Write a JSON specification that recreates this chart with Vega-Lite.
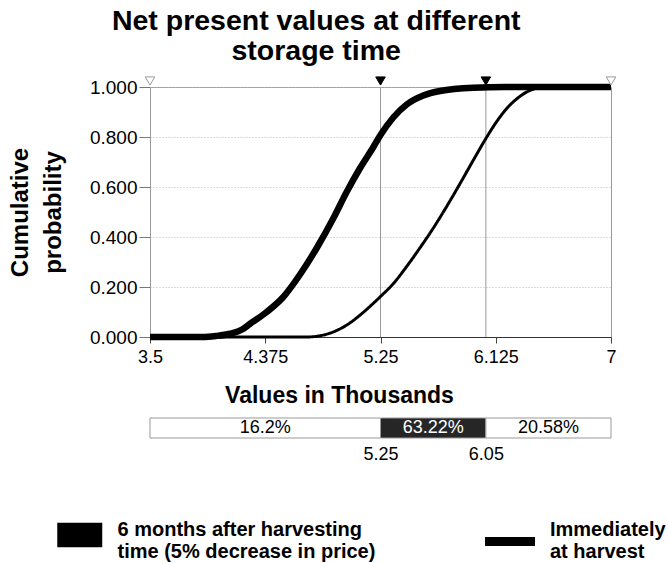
{
  "$schema": "https://vega.github.io/schema/vega-lite/v6.json",
  "background": "white",
  "padding": {"left": 7, "top": 7, "right": 5, "bottom": 0},
  "config": {"font": "Liberation Sans", "view": {"stroke": null}},
  "title": {
    "text": ["Net present values at different", "storage time"],
    "fontSize": 28.5, "fontWeight": "bold", "font": "Liberation Sans",
    "lineHeight": 30, "anchor": "middle", "color": "black", "offset": 8, "dx": -21
  },
  "spacing": 9,
  "vconcat": [
    {
      "width": 461,
      "height": 250,
      "view": {"stroke": "#999"},
      "layer": [
        {
          "data": {"values": [{"v": 5.25}, {"v": 6.05}]},
          "mark": {"type": "rule", "color": "#999", "strokeWidth": 1},
          "encoding": {
            "x": {"field": "v", "type": "quantitative", "title": "Values in Thousands"}
          }
        },
        {
          "data": {
            "values": [
              {"value": 3.5, "prob": 0},
              {"value": 3.9, "prob": 0},
              {"value": 4.0, "prob": 0.004},
              {"value": 4.107, "prob": 0.013},
              {"value": 4.2, "prob": 0.03},
              {"value": 4.26, "prob": 0.053},
              {"value": 4.386, "prob": 0.1},
              {"value": 4.512, "prob": 0.16},
              {"value": 4.639, "prob": 0.25},
              {"value": 4.765, "prob": 0.355},
              {"value": 4.892, "prob": 0.475},
              {"value": 4.993, "prob": 0.58},
              {"value": 5.094, "prob": 0.675},
              {"value": 5.196, "prob": 0.76},
              {"value": 5.25, "prob": 0.808},
              {"value": 5.347, "prob": 0.878},
              {"value": 5.449, "prob": 0.93},
              {"value": 5.575, "prob": 0.966},
              {"value": 5.702, "prob": 0.984},
              {"value": 5.955, "prob": 0.997},
              {"value": 6.2, "prob": 1},
              {"value": 7, "prob": 1}
            ]
          },
          "mark": {"type": "line", "interpolate": "monotone", "strokeWidth": 6.5, "strokeCap": "butt"},
          "encoding": {
            "x": {
              "field": "value", "type": "quantitative",
              "scale": {"domain": [3.5, 7], "nice": false, "zero": false},
              "axis": {
                "values": [3.5, 4.375, 5.25, 6.125, 7], "format": ".4~f",
                "labelFlush": false, "labelFontSize": 18, "labelColor": "black",
                "tickSize": 6, "tickColor": "#444", "domainColor": "#333",
                "grid": false, "labelPadding": 5,
                "title": "Values in Thousands", "titleFontSize": 23, "titleFontWeight": "bold",
                "titlePadding": 18, "titleX": 189, "titleColor": "black"
              }
            },
            "y": {
              "field": "prob", "type": "quantitative",
              "scale": {"domain": [0, 1], "nice": false},
              "axis": {
                "values": [0, 0.2, 0.4, 0.6, 0.8, 1], "format": ".3f",
                "labelFlush": false, "labelFontSize": 19, "labelColor": "black",
                "labelPadding": 2, "tickSize": 11, "tickColor": "#777",
                "domainColor": "#999", "gridColor": "#bbb", "gridDash": [1, 2],
                "title": ["Cumulative", "probability"], "titleFontSize": 24,
                "titleFontWeight": "bold", "titleLineHeight": 33, "titlePadding": 24,
                "titleColor": "black"
              }
            },
            "color": {
              "datum": "6 months after harvesting|time (5% decrease in price)", "type": "nominal",
              "scale": {"range": ["black"]},
              "legend": {
                "orient": "none", "legendX": -96.25, "legendY": 417, "title": null,
                "symbolType": "M-1,-0.178H1M-1,0.022H1M-1,0.222H1M-1,0.422H1M-1,0.622H1",
                "symbolSize": 2025, "symbolStrokeWidth": 6.5, "symbolStrokeColor": "black",
                "labelFontSize": 20, "labelFontWeight": "bold", "labelColor": "black",
                "labelLimit": 400, "labelOffset": 11.75,
                "labelExpr": "split(datum.label, '|')"
              }
            }
          }
        },
        {
          "data": {
            "values": [
              {"value": 3.5, "prob": 0},
              {"value": 4.69, "prob": 0},
              {"value": 4.8, "prob": 0.006},
              {"value": 4.9, "prob": 0.022},
              {"value": 5.0, "prob": 0.05},
              {"value": 5.1, "prob": 0.09},
              {"value": 5.196, "prob": 0.135},
              {"value": 5.25, "prob": 0.162},
              {"value": 5.35, "prob": 0.215},
              {"value": 5.45, "prob": 0.283},
              {"value": 5.55, "prob": 0.357},
              {"value": 5.65, "prob": 0.435},
              {"value": 5.75, "prob": 0.52},
              {"value": 5.85, "prob": 0.61},
              {"value": 5.95, "prob": 0.703},
              {"value": 6.05, "prob": 0.794},
              {"value": 6.13, "prob": 0.86},
              {"value": 6.21, "prob": 0.915},
              {"value": 6.29, "prob": 0.955},
              {"value": 6.36, "prob": 0.98},
              {"value": 6.44, "prob": 0.996},
              {"value": 6.5, "prob": 1},
              {"value": 7, "prob": 1}
            ]
          },
          "mark": {"type": "line", "interpolate": "monotone", "color": "black", "strokeWidth": 3, "strokeCap": "butt"},
          "encoding": {
            "x": {"field": "value", "type": "quantitative"},
            "y": {"field": "prob", "type": "quantitative"},
            "strokeDash": {
              "datum": "Immediately|at harvest", "type": "nominal",
              "scale": {"range": [[1, 0]]},
              "legend": {
                "orient": "none", "legendX": 333.5, "legendY": 416, "title": null,
                "symbolType": "M-1,0.36H1M-1,0.48H1M-1,0.6H1",
                "symbolSize": 2500, "symbolStrokeWidth": 3, "symbolStrokeColor": "black",
                "labelFontSize": 20, "labelFontWeight": "bold", "labelColor": "black",
                "labelLimit": 400, "labelOffset": 13.5,
                "labelExpr": "split(datum.label, '|')"
              }
            }
          }
        },
        {
          "data": {
            "values": [
              {"v": 3.5, "kind": "bound"},
              {"v": 5.25, "kind": "range"},
              {"v": 6.05, "kind": "range"},
              {"v": 7, "kind": "bound"}
            ]
          },
          "mark": {"type": "point", "shape": "triangle-down", "size": 90, "yOffset": -6, "filled": true, "opacity": 1, "strokeWidth": 1},
          "encoding": {
            "x": {"field": "v", "type": "quantitative", "title": "Values in Thousands"},
            "y": {"datum": 1, "type": "quantitative"},
            "fill": {"condition": {"test": "datum.kind === 'range'", "value": "black"}, "value": "white"},
            "stroke": {"condition": {"test": "datum.kind === 'range'", "value": "black"}, "value": "#999"}
          }
        }
      ]
    },
    {
      "width": 461,
      "height": 20,
      "data": {
        "values": [
          {"start": 3.5, "end": 5.25, "pct": "16.2%", "zone": "below"},
          {"start": 5.25, "end": 6.05, "pct": "63.22%", "zone": "within"},
          {"start": 6.05, "end": 7, "pct": "20.58%", "zone": "above"}
        ]
      },
      "layer": [
        {
          "mark": {"type": "rect", "stroke": "#999", "strokeWidth": 1},
          "encoding": {
            "x": {
              "field": "start", "type": "quantitative",
              "scale": {"domain": [3.5, 7], "nice": false, "zero": false},
              "axis": {
                "values": [5.25, 6.05], "format": ".2~f", "domain": false, "ticks": false,
                "grid": false, "labelFontSize": 18, "labelColor": "black",
                "labelPadding": 7, "labelFlush": false, "title": null
              }
            },
            "x2": {"field": "end"},
            "fill": {"condition": {"test": "datum.zone === 'within'", "value": "#262626"}, "value": "white"}
          }
        },
        {
          "transform": [{"fold": ["start", "end"], "as": ["edge", "pos"]}],
          "mark": {"type": "text", "fontSize": 18, "baseline": "middle"},
          "encoding": {
            "x": {"field": "pos", "type": "quantitative", "aggregate": "mean"},
            "text": {"field": "pct", "type": "nominal"},
            "detail": {"field": "zone", "type": "nominal"},
            "color": {"condition": {"test": "datum.zone === 'within'", "value": "white"}, "value": "black"}
          }
        }
      ]
    }
  ]
}
